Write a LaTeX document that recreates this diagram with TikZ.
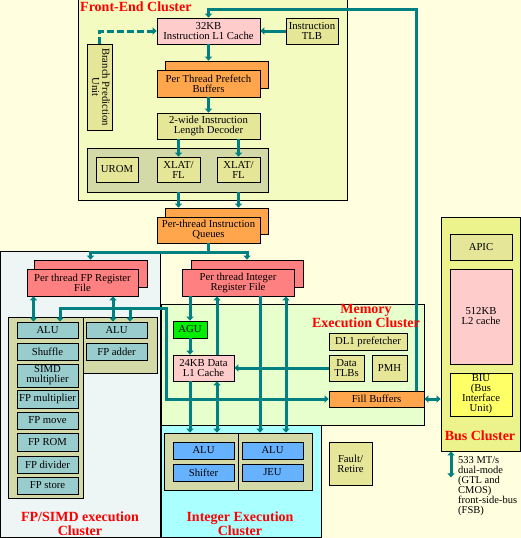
\documentclass[tikz,border=0pt]{standalone}
\usepackage{fontspec}
\setmainfont{Liberation Serif}
\usetikzlibrary{arrows.meta}
\definecolor{bgcream}{RGB}{255,255,224}
\definecolor{fefill}{RGB}{243,251,192}
\definecolor{fpfill}{RGB}{237,245,245}
\definecolor{memfill}{RGB}{230,255,204}
\definecolor{intfill}{RGB}{170,255,255}
\definecolor{busfill}{RGB}{236,242,140}
\definecolor{khaki}{RGB}{230,230,153}
\definecolor{grpfill}{RGB}{212,217,168}
\definecolor{pinkish}{RGB}{255,204,204}
\definecolor{orangish}{RGB}{255,166,77}
\definecolor{salmon}{RGB}{255,128,128}
\definecolor{fpunit}{RGB}{153,204,204}
\definecolor{intunit}{RGB}{102,178,255}
\definecolor{agugreen}{RGB}{0,238,0}
\definecolor{biuyellow}{RGB}{255,255,102}
\definecolor{lnteal}{RGB}{0,128,128}
\definecolor{titlered}{RGB}{255,0,0}
\begin{document}
\begin{tikzpicture}[x=1pt,y=-1pt,
  blk/.style={draw, line width=0.7pt, inner sep=0pt, align=center, font=\fontsize{10.7}{10}\selectfont},
  clu/.style={draw, line width=0.7pt, inner sep=0pt},
  ttl/.style={text=titlered, inner sep=0pt, align=center, font=\fontsize{14}{14}\selectfont\bfseries},
  link/.style={draw=lnteal, line width=3pt, -{Triangle[length=4pt,width=7pt]}},
  both/.style={link, {Triangle[length=4pt,width=7pt]}-{Triangle[length=4pt,width=7pt]}},
  dashlink/.style={link, dash pattern=on 7pt off 3pt}]
\useasboundingbox (0,0) rectangle (521,538);
\fill[bgcream] (0,0) rectangle (521,538);

\node[clu, fill=fpfill, minimum width=160pt, minimum height=286.5pt] (fpcl) at (80.6,394.5) {};
\node[clu, fill=memfill, minimum width=263pt, minimum height=121pt] (memcl) at (292.5,364.5) {};
\node[clu, fill=intfill, minimum width=160pt, minimum height=112.6pt] (intcl) at (241,481.5) {};
\node[clu, fill=fefill, minimum width=269pt, minimum height=201pt] (fecl) at (212.5,99.5) {};
\node[clu, fill=busfill, minimum width=79pt, minimum height=234pt] (buscl) at (480.5,334) {};

\node[blk, fill=pinkish, minimum width=103pt, minimum height=26pt] (icache) at (208.5,31) {32KB\\Instruction L1 Cache};
\node[blk, fill=khaki, minimum width=52pt, minimum height=26pt] (itlb) at (312,31) {Instruction\\TLB};
\node[blk, fill=khaki, minimum width=25pt, minimum height=86pt] (bpu) at (99.5,87)
  {\rotatebox{-90}{\begin{tabular}{@{}c@{}}Branch Prediction\\Unit\end{tabular}}};
\node[blk, fill=orangish, minimum width=103pt, minimum height=27pt] (pfback) at (216.5,74.5) {};
\node[blk, fill=orangish, minimum width=103pt, minimum height=27pt] (pf) at (208.5,83.5) {Per Thread Prefetch\\Buffers};
\node[blk, fill=khaki, minimum width=103pt, minimum height=26pt] (ild) at (208.5,126) {2-wide Instruction\\Length Decoder};
\node[blk, fill=grpfill, minimum width=181pt, minimum height=44pt] (decgrp) at (177.5,170) {};
\node[blk, fill=khaki, minimum width=42pt, minimum height=25pt] (urom) at (117,169.5) {UROM};
\node[blk, fill=khaki, minimum width=43pt, minimum height=25pt] (xlat1) at (178.5,169.5) {XLAT/\\FL};
\node[blk, fill=khaki, minimum width=43pt, minimum height=25pt] (xlat2) at (238.5,169.5) {XLAT/\\FL};
\node[blk, fill=orangish, minimum width=103pt, minimum height=26pt] (iqback) at (216.5,221) {};
\node[blk, fill=orangish, minimum width=103pt, minimum height=26pt] (iq) at (208.5,230) {Per-thread Instruction\\Queues};

\node[blk, fill=salmon, minimum width=113pt, minimum height=27pt] (fprfback) at (90.5,273.5) {};
\node[blk, fill=salmon, minimum width=111pt, minimum height=27pt] (fprf) at (82.5,282.5) {Per thread FP Register\\File};
\node[blk, fill=salmon, minimum width=112pt, minimum height=27pt] (irfback) at (247,273.5) {};
\node[blk, fill=salmon, minimum width=112pt, minimum height=27pt] (irf) at (238,282.5) {Per thread Integer\\Register File};

\node[blk, fill=grpfill, minimum width=75pt, minimum height=181pt] (fpgrpl) at (45.5,407.5) {};
\node[blk, fill=grpfill, minimum width=74pt, minimum height=56pt] (fpgrpr) at (120,345) {};
\node[blk, fill=fpunit, minimum width=61pt, minimum height=16pt] (fpalu) at (47.5,330) {ALU};
\node[blk, fill=fpunit, minimum width=61pt, minimum height=17pt] (shuffle) at (47.5,351.5) {Shuffle};
\node[blk, fill=fpunit, minimum width=61pt, minimum height=23pt] (simdmul) at (47.5,375.5) {SIMD\\multiplier};
\node[blk, fill=fpunit, minimum width=61pt, minimum height=18pt] (fpmul) at (47.5,399) {FP multiplier};
\node[blk, fill=fpunit, minimum width=61pt, minimum height=17pt] (fpmove) at (47.5,420.5) {FP move};
\node[blk, fill=fpunit, minimum width=61pt, minimum height=18pt] (fprom) at (47.5,442) {FP ROM};
\node[blk, fill=fpunit, minimum width=61pt, minimum height=17pt] (fpdiv) at (47.5,464.5) {FP divider};
\node[blk, fill=fpunit, minimum width=61pt, minimum height=17pt] (fpstore) at (47.5,485.5) {FP store};
\node[blk, fill=fpunit, minimum width=61pt, minimum height=16pt] (fpalu2) at (116.5,330) {ALU};
\node[blk, fill=fpunit, minimum width=61pt, minimum height=17pt] (fpadd) at (116.5,351.5) {FP adder};

\node[blk, fill=agugreen, minimum width=34pt, minimum height=17pt] (agu) at (190,329.5) {AGU};
\node[blk, fill=pinkish, minimum width=61pt, minimum height=26pt] (dcache) at (203.5,368) {24KB Data\\L1 Cache};
\node[blk, fill=khaki, minimum width=78pt, minimum height=17pt] (dl1pf) at (368,341.5) {DL1 prefetcher};
\node[blk, fill=khaki, minimum width=35pt, minimum height=26pt] (dtlb) at (346.5,368) {Data\\TLBs};
\node[blk, fill=khaki, minimum width=35pt, minimum height=26pt] (pmh) at (389.5,368) {PMH};
\node[blk, fill=orangish, minimum width=95pt, minimum height=16pt] (fillbuf) at (376.5,399) {Fill Buffers};

\node[blk, fill=grpfill, minimum width=148pt, minimum height=57pt] (intgrp) at (238,461.5) {};
\draw[line width=0.7pt] (intgrp.north) -- (intgrp.south);
\node[blk, fill=intunit, minimum width=61pt, minimum height=17pt] (ialu1) at (203.5,450.5) {ALU};
\node[blk, fill=intunit, minimum width=61pt, minimum height=17pt] (shifter) at (203.5,472.5) {Shifter};
\node[blk, fill=intunit, minimum width=61pt, minimum height=17pt] (ialu2) at (272.5,450.5) {ALU};
\node[blk, fill=intunit, minimum width=61pt, minimum height=17pt] (jeu) at (272.5,472.5) {JEU};
\node[blk, fill=khaki, minimum width=43pt, minimum height=43pt] (fault) at (350.5,463.5) {Fault/\\Retire};

\node[blk, fill=khaki, minimum width=62pt, minimum height=26pt] (apic) at (481,247) {APIC};
\node[blk, fill=pinkish, minimum width=62pt, minimum height=95pt] (l2) at (481,316.5) {512KB\\L2 cache};
\node[blk, fill=biuyellow, minimum width=62pt, minimum height=43pt] (biu) at (481,394.5) {BIU\\(Bus\\Interface\\Unit)};

\draw[link] (itlb) -- (icache);
\draw[dashlink] (bpu.north) |- (icache.west);
\draw[link] (icache.south) -- (icache.south |- pfback.north);
\draw[link] (pf.south) -- (ild.north);
\draw[link] (xlat1.north |- ild.south) -- (xlat1.north);
\draw[link] (xlat2.north |- ild.south) -- (xlat2.north);
\draw[link] (xlat1.north |- decgrp.south) -- (xlat1.north |- iqback.north);
\draw[link] (xlat2.north |- decgrp.south) -- (xlat2.north |- iqback.north);
\coordinate (split) at (208.5,252);
\draw[link, -] (iq.south) -- (split);
\draw[both] (fprfback.north) |- (split) -| (irfback.north);

\draw[both] ([xshift=-14pt]fpalu.north) -- ([xshift=-14pt]fpalu.north |- fprf.south);
\draw[both] ([xshift=-3.5pt]fpalu2.north) -- ([xshift=-3.5pt]fpalu2.north |- fprf.south);
\coordinate (fpbus) at (166,308);
\draw[both] ([xshift=12.5pt]fpalu.north) |- (fpbus) |- (fillbuf.west);
\draw[link] ([xshift=13.5pt]fpalu2.north |- fpbus) -- ([xshift=13.5pt]fpalu2.north);

\draw[link] (agu.north |- irf.south) -- (agu.north);
\draw[link] (agu.south) -- (agu.south |- dcache.north);
\draw[link] (agu.south |- dcache.south) -- (agu.south |- intgrp.north);
\draw[link] ([xshift=13.5pt]dcache.north) -- ([xshift=13.5pt]dcache.north |- irf.south);
\draw[both] ([xshift=13.5pt]dcache.south) -- ([xshift=13.5pt]dcache.south |- intgrp.north);
\draw[link] ([xshift=22pt]irf.south) -- ([xshift=22pt]irf.south |- intgrp.north);
\draw[both] ([xshift=48pt]irf.south) -- ([xshift=48pt]irf.south |- intgrp.north);
\draw[link] (dtlb) -- (dcache);

\draw[link] ([xshift=39.5pt]fillbuf.north) -- ++(0,-381) -| (icache.north);
\draw[both] (fillbuf.east) -- (fillbuf.east -| buscl.west);
\draw[both] ([xshift=-29.5pt]buscl.south) -- ++(0,26);

\node[ttl, anchor=west] (fettl) at (80,7) {Front-End Cluster};
\node[ttl] (memttl) at (366,316) {Memory\\Execution Cluster};
\node[ttl] (busttl) at (480,436) {Bus Cluster};
\node[ttl] (fpttl) at (80,523.5) {FP/SIMD execution\\Cluster};
\node[ttl] (intttl) at (240,523.5) {Integer Execution\\Cluster};
\node[anchor=north west, inner sep=0pt, align=left, font=\fontsize{10.5}{10}\selectfont] (fsb) at (458,456)
  {533 MT/s\\dual-mode\\(GTL and\\CMOS)\\front-side-bus\\(FSB)};
\end{tikzpicture}
\end{document}
